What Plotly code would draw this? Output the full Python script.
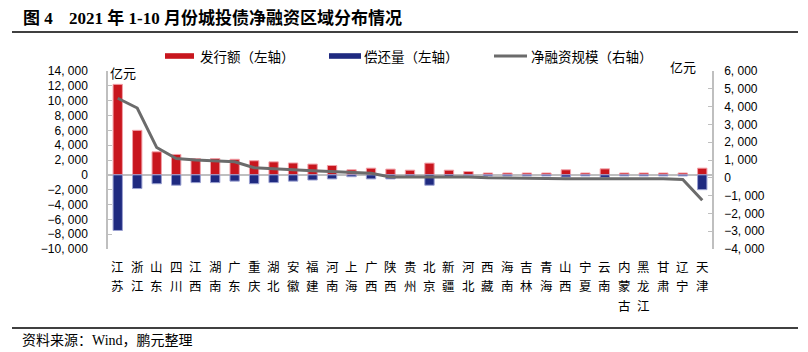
import plotly.graph_objects as go

# ---------------- data ----------------
regions = ["江苏", "浙江", "山东", "四川", "江西", "湖南", "广东", "重庆", "湖北", "安徽",
           "福建", "河南", "上海", "广西", "陕西", "贵州", "北京", "新疆", "河北", "西藏",
           "海南", "吉林", "青海", "山西", "宁夏", "云南", "内蒙古", "黑龙江", "甘肃", "辽宁", "天津"]
issuance = [12200, 6000, 3100, 2750, 2200, 2200, 2100, 1900, 1750, 1600,
            1450, 1260, 680, 900, 770, 630, 1580, 630, 450, 250,
            250, 250, 250, 680, 250, 810, 250, 250, 250, 250, 900]
repayment = [-7500, -1850, -1200, -1400, -1050, -1050, -850, -1200, -1050, -850,
             -700, -550, -250, -550, -550, -150, -1400, -350, -100, -150,
             -150, -150, -150, -300, -150, -350, -150, -150, -150, -150, -2000]
net_financing = [4470, 3920, 1700, 1080, 1000, 940, 900, 570, 530, 450,
                 400, 340, 300, 250, 50, 50, 60, 60, 40, 0,
                 -20, -50, -50, -50, -50, -50, -50, -50, -60, -100, -1260]

left_tick_vals = [-10000, -8000, -6000, -4000, -2000, 0, 2000, 4000, 6000, 8000, 10000, 12000, 14000]
left_tick_text = ["−10, 000", "−8, 000", "−6, 000", "−4, 000", "−2, 000", "0", "2, 000",
                  "4, 000", "6, 000", "8, 000", "10, 000", "12, 000", "14, 000"]
right_tick_vals = [-4000, -3000, -2000, -1000, 0, 1000, 2000, 3000, 4000, 5000, 6000]
right_tick_text = ["−4, 000", "−3, 000", "−2, 000", "−1, 000", "0", "1, 000", "2, 000",
                   "3, 000", "4, 000", "5, 000", "6, 000"]

series_names = ["发行额（左轴）", "偿还量（左轴）", "净融资规模（右轴）"]
title_prefix = "图 4"
title_main = "2021 年 1-10 月份城投债净融资区域分布情况"
unit = "亿元"
source = "资料来源：Wind，鹏元整理"

# ---------------- style ----------------
RED = "#C8161E"
BLUE = "#1F2A80"
GRAY = "#6B6B6B"
AXIS = "#BFBFBF"
W, H = 808, 352
L, R, T, B = 108, 712, 71, 249  # plot area in pixels

def px(x):
    return (x - L) / (R - L)

def py(y):
    return (B - y) / (B - T)

fig = go.Figure()
fig.add_trace(go.Bar(x=regions, y=issuance, name=series_names[0], marker=dict(color=RED, line=dict(color="#F2A0A8", width=1)),
                     width=0.48, yaxis="y"))
fig.add_trace(go.Bar(x=regions, y=repayment, name=series_names[1], marker=dict(color=BLUE, line=dict(color="#9AA0D0", width=1)),
                     width=0.48, yaxis="y"))
fig.add_trace(go.Scatter(x=regions, y=net_financing, name=series_names[2], mode="lines",
                         line=dict(color=GRAY, width=3), yaxis="y2"))

sans = "Liberation Sans, Noto Sans CJK SC, sans-serif"
cjk = "Noto Sans CJK SC, sans-serif"

fig.update_layout(
    width=W, height=H,
    margin=dict(l=L, r=W - R, t=T, b=H - B, pad=0),
    paper_bgcolor="white", plot_bgcolor="white",
    showlegend=False,
    barmode="overlay",
    xaxis=dict(showticklabels=False, showline=False, showgrid=False, ticks="",
               range=[-0.5, len(regions) - 0.5]),
    yaxis=dict(range=[-10000, 14000], tickmode="array", tickvals=left_tick_vals, ticktext=left_tick_text,
               showgrid=False, showline=True, linecolor=AXIS, linewidth=1.5,
               ticks="inside", ticklen=4, tickcolor=AXIS, tickwidth=1,
               zeroline=True, zerolinecolor=AXIS, zerolinewidth=2,
               tickfont=dict(family=sans, size=12, color="#000"), ticklabelstandoff=16),
    yaxis2=dict(range=[-4000, 6000], overlaying="y", side="right", tickmode="array",
                tickvals=right_tick_vals, ticktext=right_tick_text,
                showgrid=False, showline=True, linecolor=AXIS, linewidth=1.5,
                ticks="inside", ticklen=4, tickcolor=AXIS, tickwidth=1, zeroline=False,
                tickfont=dict(family=sans, size=12, color="#000"), ticklabelstandoff=8),
)

shapes = []
annotations = []

# category labels, written vertically one character per row under each category
row_y = [266, 285.5, 305]
for name in regions:
    for k, ch in enumerate(name):
        annotations.append(dict(xref="x", yref="paper", x=name, y=py(row_y[k]), xanchor="center", yanchor="middle",
                                text=ch, showarrow=False, font=dict(family=cjk, size=12.5, color="#000")))

# title & rules
annotations.append(dict(xref="paper", yref="paper", x=px(21), y=py(18), xanchor="left", yanchor="middle",
                        text="<b>" + title_prefix + "</b>", showarrow=False,
                        font=dict(family="Liberation Serif, Noto Sans CJK SC", size=17, color="#000")))
annotations.append(dict(xref="paper", yref="paper", x=px(67), y=py(18), xanchor="left", yanchor="middle",
                        text="<b>" + title_main + "</b>", showarrow=False,
                        font=dict(family="Liberation Serif, Noto Sans CJK SC", size=17, color="#000")))
shapes.append(dict(type="line", xref="paper", yref="paper", x0=px(12), x1=px(798), y0=py(32), y1=py(32),
                   line=dict(color="#000", width=1.5)))
shapes.append(dict(type="line", xref="paper", yref="paper", x0=px(12), x1=px(798), y0=py(328), y1=py(328),
                   line=dict(color="#000", width=1.5)))
annotations.append(dict(xref="paper", yref="paper", x=px(20), y=py(340), xanchor="left", yanchor="middle",
                        text=source, showarrow=False,
                        font=dict(family="Liberation Serif, Noto Sans CJK SC", size=14, color="#000")))

# legend (manual)
leg_y = 56
shapes.append(dict(type="rect", xref="paper", yref="paper", x0=px(165), x1=px(194), y0=py(leg_y - 2.8), y1=py(leg_y + 2.8),
                   fillcolor=RED, line=dict(width=0)))
shapes.append(dict(type="rect", xref="paper", yref="paper", x0=px(329), x1=px(361), y0=py(leg_y - 2.8), y1=py(leg_y + 2.8),
                   fillcolor=BLUE, line=dict(width=0)))
shapes.append(dict(type="line", xref="paper", yref="paper", x0=px(494), x1=px(527), y0=py(leg_y), y1=py(leg_y),
                   line=dict(color=GRAY, width=3)))
for xpos, name in zip([198, 362, 529], series_names):
    annotations.append(dict(xref="paper", yref="paper", x=px(xpos), y=py(leg_y), xanchor="left", yanchor="middle",
                            text=name, showarrow=False, font=dict(family=cjk, size=13.5, color="#000")))

# unit labels
annotations.append(dict(xref="paper", yref="paper", x=px(108), y=py(72), xanchor="left", yanchor="middle",
                        text=unit, showarrow=False, font=dict(family=cjk, size=13, color="#000")))
annotations.append(dict(xref="paper", yref="paper", x=px(698), y=py(67), xanchor="right", yanchor="middle",
                        text=unit, showarrow=False, font=dict(family=cjk, size=13, color="#000")))

fig.update_layout(shapes=shapes, annotations=annotations)
fig.write_html("out.html")
